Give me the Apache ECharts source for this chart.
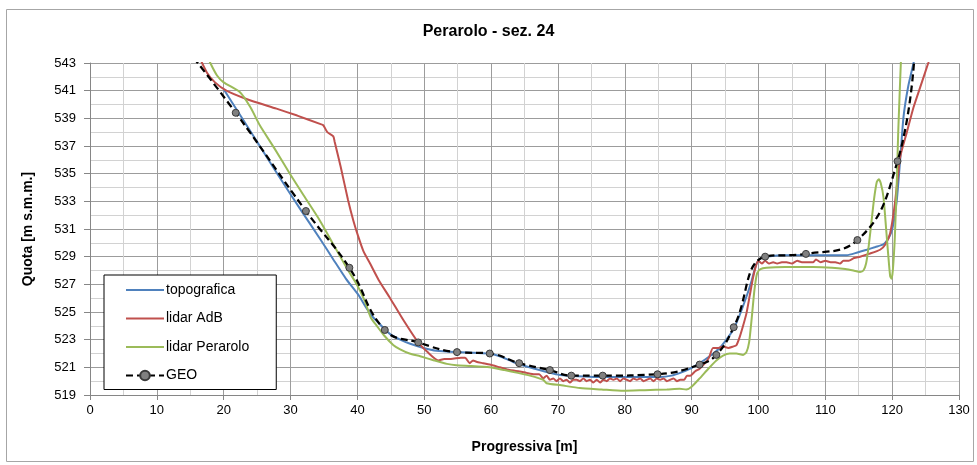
<!DOCTYPE html>
<html>
<head>
<meta charset="utf-8">
<script src="https://cdn.jsdelivr.net/npm/echarts@6/dist/echarts.min.js"></script>
<style>
  html, body { margin: 0; padding: 0; background: #fff; }
  #chart { width: 977px; height: 465px; }
</style>
</head>
<body>
<div id="chart"></div>
<script>
// Cross-section "Perarolo - sez. 24": progressive distance [m] vs elevation [m s.m.m.]
const titleText = 'Perarolo - sez. 24';
const xName = 'Progressiva [m]';
const yName = 'Quota [m s.m.m.]';
const seriesNames = ['topografica', 'lidar AdB', 'lidar Perarolo', 'GEO'];

const xMin = 0, xMax = 130, xStep = 10;
const yMin = 519, yMax = 543, yStep = 2;

// topografica survey
const topografica = [
  [20.0, 541.1], [22.5, 539.2], [25.4, 537.0], [28.4, 534.7], [31.5, 532.4], [34.4, 530.3],
  [36.4, 528.8], [38.3, 527.4], [40.2, 526.2], [41.2, 525.4], [42.2, 524.7], [43.4, 524.1],
  [44.9, 523.4], [46.4, 523.0], [47.9, 522.7], [49.9, 522.4], [51.8, 522.2], [54.8, 522.1],
  [57.5, 522.05], [59.8, 522.0], [61.3, 521.8], [62.8, 521.5], [64.3, 521.2], [66.5, 520.9],
  [68.8, 520.6], [70.3, 520.45], [73.0, 520.35], [76.0, 520.3], [78.3, 520.3], [82.0, 520.3],
  [85.3, 520.3], [87.0, 520.4], [88.3, 520.6], [89.8, 520.9], [91.2, 521.3], [92.7, 521.8],
  [94.2, 522.4], [95.2, 523.0], [96.2, 523.7], [97.2, 524.8], [98.2, 526.1], [99.0, 527.3],
  [99.7, 528.5], [100.4, 528.9], [101.2, 529.0], [104.0, 529.1], [108.0, 529.1], [111.0, 529.1],
  [113.2, 529.1], [114.8, 529.3], [116.2, 529.5], [117.5, 529.7], [118.7, 529.9], [119.4, 530.3],
  [119.9, 530.8], [120.3, 531.7], [120.7, 533.1], [121.2, 536.0], [121.7, 539.1], [122.4, 541.3],
  [123.2, 543.0], [123.4, 543.5]
];

// lidar AdB
const lidarAdB = [
  [16.0, 543.8], [17.5, 542.3], [18.7, 541.6], [20.4, 541.0], [23.4, 540.4], [27.9, 539.7],
  [31.0, 539.2], [34.4, 538.6], [34.9, 538.5], [35.5, 538.0], [36.4, 537.7], [36.6, 537.3],
  [37.5, 535.5], [38.6, 533.1], [39.4, 531.6], [40.1, 530.5], [40.9, 529.4], [41.9, 528.5],
  [43.2, 527.3], [44.9, 526.0], [46.9, 524.4], [49.1, 522.8], [50.5, 522.1], [52.1, 521.5],
  [53.0, 521.6], [54.0, 521.6], [55.5, 521.7], [56.1, 521.7], [56.8, 521.3], [57.3, 521.5],
  [57.8, 521.4], [58.8, 521.3], [59.8, 521.2], [61.3, 521.0], [62.8, 520.8], [64.3, 520.7],
  [65.3, 520.6], [66.5, 520.5], [67.2, 520.5], [67.8, 520.2], [68.3, 520.4], [68.8, 520.1],
  [69.3, 520.2], [69.8, 520.0], [70.3, 520.2], [70.8, 520.0], [71.3, 520.1], [71.8, 519.9],
  [72.3, 520.1], [72.8, 520.1], [73.3, 520.0], [73.8, 520.2], [74.3, 520.0], [74.8, 520.1],
  [75.3, 519.9], [75.8, 520.1], [76.3, 519.9], [76.8, 520.1], [77.3, 520.0], [77.8, 520.2],
  [78.3, 520.1], [78.8, 520.2], [79.3, 520.0], [79.8, 520.2], [80.3, 520.1], [80.8, 520.0],
  [81.3, 520.2], [81.8, 520.1], [82.3, 520.2], [82.8, 520.0], [83.3, 520.1], [83.8, 520.2],
  [84.3, 520.0], [84.8, 520.2], [85.3, 520.1], [85.8, 520.2], [86.3, 520.0], [86.8, 520.1],
  [87.3, 520.2], [87.8, 520.0], [88.3, 520.1], [88.9, 520.1], [89.3, 520.4], [89.8, 520.4],
  [90.5, 520.7], [91.2, 520.9], [92.0, 521.3], [92.6, 521.7], [93.2, 522.4], [94.0, 522.4],
  [94.7, 522.5], [95.5, 522.4], [96.2, 522.5], [96.7, 522.6], [97.2, 523.2], [97.7, 524.0],
  [98.2, 524.9], [98.7, 526.2], [99.2, 527.5], [99.6, 528.3], [100.0, 528.7], [100.5, 528.5],
  [101.0, 528.7], [101.6, 528.5], [102.2, 528.6], [102.8, 528.5], [103.5, 528.6], [104.2, 528.6],
  [105.0, 528.5], [105.8, 528.7], [106.5, 528.6], [107.3, 528.6], [108.2, 528.6], [108.6, 528.8],
  [109.3, 528.6], [110.0, 528.7], [110.8, 528.6], [111.5, 528.6], [112.2, 528.5], [112.7, 528.7],
  [113.5, 528.7], [114.3, 528.9], [115.2, 529.0], [116.5, 529.2], [118.2, 529.5], [119.0, 529.9],
  [119.7, 530.7], [120.4, 532.8], [121.2, 536.2], [122.2, 538.0], [123.2, 539.8], [124.3, 541.4],
  [125.4, 543.0], [125.8, 543.6]
];

// lidar Perarolo
const lidarPerarolo = [
  [17.5, 543.6], [18.0, 543.0], [19.0, 542.1], [20.0, 541.6], [22.4, 540.9], [24.0, 539.8],
  [25.4, 538.5], [27.5, 536.9], [29.9, 535.0], [32.0, 533.4], [34.4, 531.6], [36.5, 529.8],
  [38.5, 528.1], [39.9, 527.0], [41.1, 525.8], [42.0, 524.6], [42.9, 524.0], [44.0, 523.3],
  [45.4, 522.6], [46.4, 522.3], [47.8, 522.0], [49.4, 521.8], [51.5, 521.5], [53.4, 521.25],
  [54.8, 521.15], [57.0, 521.1], [59.8, 521.0], [62.0, 520.8], [64.0, 520.6], [65.8, 520.4],
  [67.8, 520.1], [68.3, 519.85], [70.5, 519.7], [73.3, 519.5], [76.5, 519.4], [79.8, 519.3],
  [83.0, 519.35], [86.3, 519.4], [88.2, 519.45], [89.2, 519.4], [90.0, 519.6], [91.2, 520.2],
  [92.5, 520.9], [93.7, 521.5], [94.7, 521.85], [95.7, 522.0], [96.7, 522.0], [97.7, 521.9],
  [98.2, 522.1], [98.6, 522.8], [99.0, 524.6], [99.4, 526.6], [99.8, 527.8], [100.3, 528.1],
  [101.2, 528.2], [104.0, 528.25], [108.2, 528.25], [111.0, 528.2], [113.0, 528.1], [114.2, 528.0],
  [115.2, 527.9], [115.7, 528.0], [116.1, 528.5], [116.5, 529.8], [116.9, 531.5], [117.3, 533.2],
  [117.7, 534.4], [118.0, 534.6], [118.3, 534.3], [118.7, 533.3], [119.1, 531.0], [119.4, 529.2],
  [119.7, 527.6], [119.9, 527.4], [120.1, 528.0], [120.4, 530.4], [120.7, 534.5], [120.9, 537.9],
  [121.1, 540.5], [121.3, 543.0], [121.4, 544.0]
];

// GEO profile points
const geo = [
  [14.5, 544.0], [21.8, 539.4], [32.3, 532.3], [38.8, 528.2], [44.1, 523.7], [49.1, 522.8],
  [54.9, 522.1], [59.8, 522.0], [64.2, 521.3], [68.8, 520.8], [72.0, 520.4], [76.7, 520.4],
  [84.9, 520.5], [91.2, 521.2], [93.7, 521.9], [96.3, 523.9], [101.0, 529.0], [107.1, 529.2],
  [114.8, 530.2], [120.8, 535.9], [123.4, 544.0]
];

const FONT = 'Liberation Sans, Arial, sans-serif';
const majorGrid = '#9c9c9c';
const minorGrid = '#d2d2d2';

const chart = echarts.init(document.getElementById('chart'), null, { renderer: 'canvas' });

function lineSeries(name, data, color) {
  return {
    name, type: 'line', data, showSymbol: false, symbol: 'none',
    smooth: 0.2, clip: true,
    lineStyle: { color, width: 2 }, itemStyle: { color },
    emphasis: { disabled: true }, z: 3
  };
}

// legend entries: plain line samples for the three profiles, dashed line + marker for GEO
const legendData = seriesNames.map((name, i) => i < 3
  ? { name, itemStyle: { opacity: 0 } }
  : { name });

chart.setOption({
  animation: false,
  backgroundColor: '#fff',
  graphic: [{
    type: 'rect', left: 4, top: 7, z: -1,
    shape: { width: 967, height: 452 },
    style: { fill: 'none', stroke: '#a6a6a6', lineWidth: 1 }
  }],
  title: {
    text: titleText, left: 'center', top: 19,
    textStyle: { fontFamily: FONT, fontSize: 16, fontWeight: 'bold', color: '#000' }
  },
  grid: { left: 90, right: 18, top: 63, bottom: 70 },
  legend: {
    orient: 'vertical', left: 104, top: 275,
    data: legendData,
    backgroundColor: '#fff', borderColor: '#000', borderWidth: 1,
    padding: [8, 27, 7, 21],
    itemWidth: 38, itemHeight: 12, itemGap: 14.5,
    textStyle: { fontFamily: FONT, fontSize: 14, color: '#000', padding: [0, 0, 0, -3] },
    selectedMode: false
  },
  xAxis: {
    type: 'value', min: xMin, max: xMax, interval: xStep,
    name: xName, nameLocation: 'middle', nameGap: 45,
    nameTextStyle: { fontFamily: FONT, fontSize: 14, fontWeight: 'bold', color: '#000' },
    axisLine: { show: true, lineStyle: { color: '#868686', width: 1 } },
    axisTick: { show: true, inside: false, length: 5, lineStyle: { color: '#868686' } },
    axisLabel: { fontFamily: FONT, fontSize: 13, color: '#000', margin: 9 },
    splitLine: { show: true, lineStyle: { color: majorGrid, width: 1 } },
    minorTick: { show: false, splitNumber: 2 },
    minorSplitLine: { show: true, lineStyle: { color: minorGrid, width: 1 } }
  },
  yAxis: {
    type: 'value', min: yMin, max: yMax, interval: yStep,
    name: yName, nameLocation: 'middle', nameGap: 55, nameRotate: 90,
    nameTextStyle: { fontFamily: FONT, fontSize: 14, fontWeight: 'bold', color: '#000' },
    axisLine: { show: true, lineStyle: { color: '#868686', width: 1 } },
    axisTick: { show: true, inside: false, length: 6, lineStyle: { color: '#868686' } },
    axisLabel: { fontFamily: FONT, fontSize: 13, color: '#000', margin: 14 },
    splitLine: { show: true, lineStyle: { color: majorGrid, width: 1 } },
    minorTick: { show: false, splitNumber: 2 },
    minorSplitLine: { show: true, lineStyle: { color: minorGrid, width: 1 } }
  },
  series: [
    lineSeries(seriesNames[0], topografica, '#4f81bd'),
    lineSeries(seriesNames[1], lidarAdB, '#c0504d'),
    lineSeries(seriesNames[2], lidarPerarolo, '#9bbb59'),
    {
      name: seriesNames[3], type: 'line', data: geo, smooth: 0.45, clip: true,
      symbol: 'circle', symbolSize: 7, showSymbol: true,
      lineStyle: { color: '#000', width: 2.25, type: [7, 4] },
      itemStyle: { color: '#808080', borderColor: '#3a3a3a', borderWidth: 1 },
      emphasis: { disabled: true }, z: 4
    }
  ]
});
</script>
</body>
</html>
